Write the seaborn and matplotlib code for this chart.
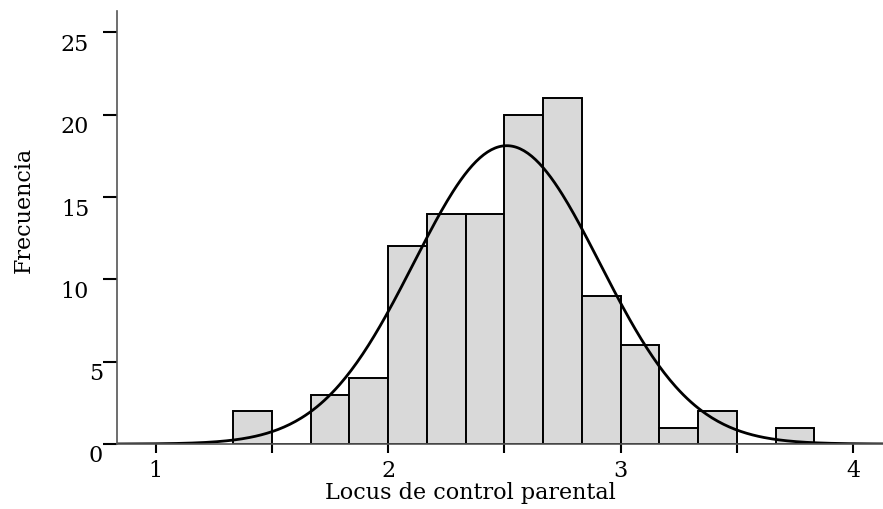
import numpy as np
import pandas as pd
import matplotlib
matplotlib.use("Agg")
import matplotlib.pyplot as plt
import matplotlib.transforms as mtransforms
import seaborn as sns

# -----------------------------
# Data
# -----------------------------
bin_start = 4 / 3
bin_width = 1 / 6
counts = [2, 0, 3, 4, 12, 14, 14, 20, 21, 9, 6, 1, 2, 0, 1]

# fitted normal curve parameters
n_total = sum(counts)
curve_mean = 2.51
curve_sd = 0.40

x_ticks = [1, 1.5, 2, 2.5, 3, 3.5, 4]
x_tick_labels = ["1", "", "2", "", "3", "", "4"]
y_ticks = [0, 5, 10, 15, 20, 25]
y_tick_labels = ["0", "5", "10", "15", "20", "25"]

x_label = "Locus de control parental"
y_label = "Frecuencia"

# -----------------------------
# Style
# -----------------------------
sns.set_style("ticks")
plt.rcParams["font.family"] = ["DejaVu Serif"]
plt.rcParams["font.size"] = 16
plt.rcParams["text.color"] = "black"
plt.rcParams["axes.labelcolor"] = "black"
plt.rcParams["xtick.labelcolor"] = "black"
plt.rcParams["ytick.labelcolor"] = "black"

fig = plt.figure(figsize=(8.83, 5.09), dpi=100)
ax = fig.add_axes([117 / 883, 65 / 509, 766 / 883, 433 / 509])

# -----------------------------
# Histogram
# -----------------------------
edges = [bin_start + bin_width * i for i in range(len(counts) + 1)]
df = pd.DataFrame({
    "score": [(edges[i] + edges[i + 1]) / 2 for i in range(len(counts))],
    "count": counts,
})
sns.histplot(data=df, x="score", weights="count", bins=edges, color="#d9d9d9",
             edgecolor="black", linewidth=1.4, alpha=1, ax=ax)

# -----------------------------
# Normal curve
# -----------------------------
xs = np.linspace(0.834, 4.128, 400)
ys = n_total * bin_width * np.exp(-0.5 * ((xs - curve_mean) / curve_sd) ** 2) / (curve_sd * np.sqrt(2 * np.pi))
sns.lineplot(x=xs, y=ys, color="black", linewidth=2.0, ax=ax)

ax.set_xlim(0.834, 4.128)
ax.set_ylim(0, 26.3)

sns.despine(ax=ax)
for side in ["left", "bottom"]:
    ax.spines[side].set_color("#555555")
    ax.spines[side].set_linewidth(1.2)

ax.set_xticks(x_ticks)
ax.set_xticklabels(x_tick_labels)
ax.set_yticks(y_ticks)
ax.set_yticklabels(y_tick_labels)
ax.tick_params(axis="x", length=6.5, width=1.5, color="black", pad=5, labelsize=16)
ax.tick_params(axis="y", length=10, width=1.5, color="black", pad=0, labelsize=16)

# y tick labels sit a bit below their ticks, two-digit ones shifted left
for lab in ax.get_yticklabels():
    dx = -14 / 100 if len(lab.get_text()) > 1 else 0
    lab.set_transform(lab.get_transform() + mtransforms.ScaledTranslation(dx, -10 / 100, fig.dpi_scale_trans))

ax.set_xlabel(x_label, fontsize=16)
ax.set_ylabel(y_label, fontsize=16)
ax.xaxis.set_label_coords(0.461, -0.088)
ax.yaxis.set_label_coords(-0.108, 0.54)

fig.savefig("out.png", dpi=100)
plt.close()
